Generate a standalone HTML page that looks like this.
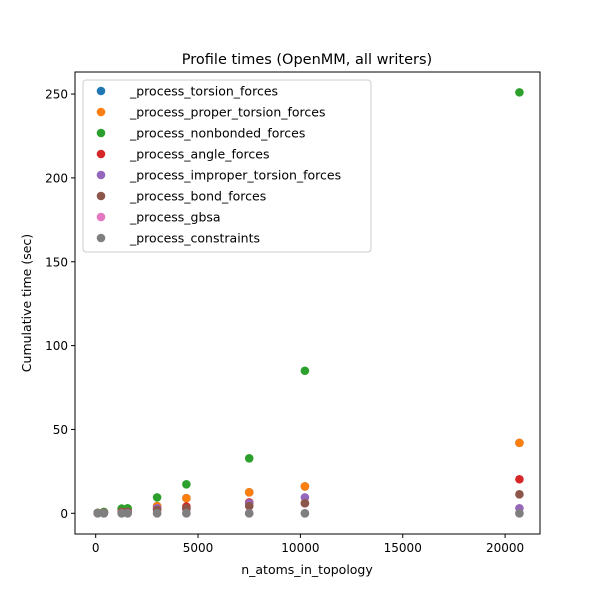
<!DOCTYPE html>
<html><head><meta charset="utf-8"><style>
body{margin:0;background:#fff}
svg text{font-family:"DejaVu Sans","Liberation Sans",sans-serif;fill:#000}
</style></head><body>
<svg id="c" width="600" height="600" xmlns="http://www.w3.org/2000/svg"></svg>
<script>
const xs=[100,400,1270,1560,3000,4430,7500,10220,20700];
const seriesNames=["_process_torsion_forces","_process_proper_torsion_forces","_process_nonbonded_forces","_process_angle_forces","_process_improper_torsion_forces","_process_bond_forces","_process_gbsa","_process_constraints"];
const colors=["#1f77b4","#ff7f0e","#2ca02c","#d62728","#9467bd","#8c564b","#e377c2","#7f7f7f"];
const torsion=[0.2,0.5,2.5,2.5,4.3,9,12.5,16,42];
const proper=[0.2,0.5,2.5,2.5,4.3,9,12.5,16,42];
const nonbonded=[0.3,0.8,2.8,3,9.5,17.3,32.8,85,251];
const angle=[0.1,0.3,0.8,0.8,3,4,6.5,6,20.3];
const improper=[0.1,0.2,0.5,0.5,3,2.5,6,9.5,3];
const bond=[0.1,0.2,0.5,0.5,2,3,4.3,6,11.3];
const gbsa=[0,0,0,0,0,0,0,0,0];
const constraints=[0,0,0,0,0,0,0,0,0];
const allSeries=[torsion,proper,nonbonded,angle,improper,bond,gbsa,constraints];
const xTicks=[0,5000,10000,15000,20000];
const yTicks=[0,50,100,150,200,250];
const X=v=>95.7+v*0.02047, Y=v=>513.3-v*1.677;
const L=75,R=540,T=72,B=534;
const svg=document.getElementById('c');const NS="http://www.w3.org/2000/svg";
function mk(t,a,p){const e=document.createElementNS(NS,t);for(const k in a)e.setAttribute(k,a[k]);(p||svg).appendChild(e);return e;}
let t=mk('text',{x:307,y:64,'font-size':14.5,'text-anchor':'middle'});t.textContent="Profile times (OpenMM, all writers)";

xTicks.forEach(v=>{mk('line',{x1:X(v),x2:X(v),y1:B,y2:B+4,stroke:'#000'});const e=mk('text',{x:X(v),y:B+18,'font-size':12,'text-anchor':'middle'});e.textContent=v;
});
yTicks.forEach(v=>{mk('line',{x1:L-4,x2:L,y1:Y(v),y2:Y(v),stroke:'#000'});const e=mk('text',{x:L-7,y:Y(v)+4.5,'font-size':12,'text-anchor':'end'});e.textContent=v;
});
t=mk('text',{x:307,y:574,'font-size':12.5,'text-anchor':'middle'});t.textContent="n_atoms_in_topology";

t=mk('text',{x:31,y:303,'font-size':12.5,'text-anchor':'middle',transform:'rotate(-90 31 303)'});t.textContent="Cumulative time (sec)";

allSeries.forEach((s,i)=>{const g=mk('g',{fill:colors[i]});

s.forEach((v,j)=>{const c=mk('circle',{cx:X(xs[j]),cy:Y(v),r:4.3},g);
});});
const fr=mk('rect',{x:L,y:T,width:R-L,height:B-T,fill:'none',stroke:'#000','stroke-width':1});

const lg=mk('g',{});
mk('rect',{x:83,y:80,width:288,height:172,rx:3,fill:'#fff','fill-opacity':0.8,stroke:'#ccc'},lg);
seriesNames.forEach((n,i)=>{const y=91+i*21;mk('circle',{cx:101,cy:y,r:4.3,fill:colors[i]},lg);
const e=mk('text',{x:130,y:y+4.5,'font-size':12.5},lg);e.textContent=n;
});
</script>
</body></html>
